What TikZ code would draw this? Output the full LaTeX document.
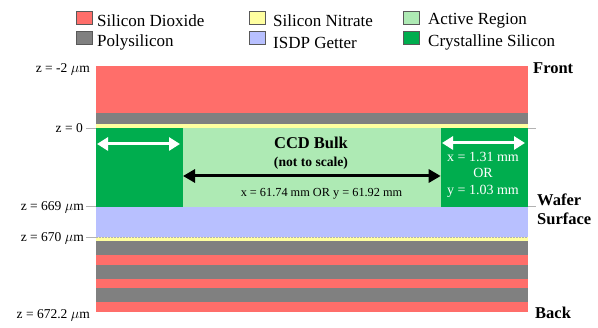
\documentclass[tikz,border=0pt]{standalone}
\usepackage{fontspec}
\setmainfont{Liberation Serif}
\usetikzlibrary{arrows.meta}
\definecolor{oxide}{RGB}{255,110,106}
\definecolor{poly}{RGB}{128,128,128}
\definecolor{nitrate}{RGB}{255,255,160}
\definecolor{active}{RGB}{174,234,180}
\definecolor{xtal}{RGB}{0,173,78}
\definecolor{getter}{RGB}{184,192,255}
\tikzset{
  legbox/.style={draw=black!65, line width=0.8pt, minimum width=16pt, minimum height=13pt, inner sep=0pt},
  legtext/.style={anchor=west, font=\fontsize{17}{19}\selectfont, inner sep=0pt},
  zlab/.style={anchor=east, font=\fontsize{13.5}{15}\selectfont, inner sep=0pt},
  sidelab/.style={anchor=west, font=\bfseries\fontsize{16.5}{18}\selectfont, inner sep=0pt},
  tick/.style={draw=black!30, line width=0.6pt},
  whitearrow/.style={draw=white, line width=3pt, {Triangle[length=11pt,width=13pt]}-{Triangle[length=11pt,width=13pt]}},
  blackarrow/.style={draw=black, line width=3pt, {Triangle[length=12pt,width=13pt]}-{Triangle[length=12pt,width=13pt]}},
  rtext/.style={text=white, font=\fontsize{14}{16}\selectfont, inner sep=0pt},
}
\begin{document}
\begin{tikzpicture}[x=1pt,y=-1pt]
\useasboundingbox (0,0) rectangle (598,328);
% legend
\node[legbox, fill=oxide] (l1) at (84,17.5) {};
\node[legtext] (t1) at (97,20.5) {Silicon Dioxide};
\node[legbox, fill=poly] (l2) at (84,38) {};
\node[legtext] (t2) at (97,42.5) {Polysilicon};
\node[legbox, fill=nitrate] (l3) at (257.5,17.5) {};
\node[legtext] (t3) at (273,20.5) {Silicon Nitrate};
\node[legbox, fill=getter] (l4) at (257.5,38) {};
\node[legtext] (t4) at (273,42.5) {ISDP Getter};
\node[legbox, fill=active] (l5) at (411.5,17.5) {};
\node[legtext] (t5) at (428,20.5) {Active Region};
\node[legbox, fill=xtal] (l6) at (411.5,38) {};
\node[legtext] (t6) at (428,42.5) {Crystalline Silicon};
% layers
\fill[oxide] (96,65.7) rectangle (527.5,113.3);
\fill[poly] (96,113.3) rectangle (527.5,124.3);
\fill[nitrate] (96,124.3) rectangle (527.5,128);
\fill[xtal] (96,128) rectangle (527.5,206.7);
\fill[active] (183,128) rectangle (440.7,206.7);
\fill[getter] (96,206.7) rectangle (527.5,237.3);
\fill[nitrate] (96,237.3) rectangle (527.5,240.7);
\fill[poly] (96,240.7) rectangle (527.5,255);
\fill[oxide] (96,255) rectangle (527.5,265);
\fill[poly] (96,265) rectangle (527.5,278.7);
\fill[oxide] (96,278.7) rectangle (527.5,288.3);
\fill[poly] (96,288.3) rectangle (527.5,302.3);
\fill[oxide] (96,302.3) rectangle (527.5,311.7);
% ticks
\coordinate (a0) at (86,128); \coordinate (a1) at (96,128);
\coordinate (a2) at (527.5,128); \coordinate (a3) at (536,128);
\draw[tick] (a0) -- (a1); \draw[tick] (a2) -- (a3);
\coordinate (b0) at (86,206.7); \coordinate (b1) at (96,206.7);
\coordinate (b2) at (527.5,206.7); \coordinate (b3) at (536,206.7);
\draw[tick] (b0) -- (b1); \draw[tick] (b2) -- (b3);
\coordinate (c0) at (86,237.3); \coordinate (c1) at (96,237.3);
\coordinate (c2) at (527.5,237.3);
\draw[tick] (c0) -- (c1);
\draw[tick, dashed, dash pattern=on 2pt off 1pt] (c1) -- (c2);
% z labels
\node[zlab] (z1) at (90,69) {z = -2 $\mu$m};
\node[zlab] (z2) at (83,128.5) {z = 0};
\node[zlab] (z3) at (84,207) {z = 669 $\mu$m};
\node[zlab] (z4) at (84,238) {z = 670 $\mu$m};
\node[zlab] (z5) at (90,315) {z = 672.2 $\mu$m};
% side labels
\node[sidelab] (f) at (533,68) {Front};
\node[sidelab] (w) at (537,200) {Wafer};
\node[sidelab] (s) at (537,218.5) {Surface};
\node[sidelab] (bk) at (535,313) {Back};
% CCD bulk
\node[font=\bfseries\fontsize{16.5}{18}\selectfont, inner sep=0pt] (ccd) at (311,143) {CCD Bulk};
\node[font=\bfseries\fontsize{13.6}{15}\selectfont, inner sep=0pt] (nts) at (311,163) {(not to scale)};
\coordinate (bl) at (183,176); \coordinate (br) at (440.7,176);
\draw[blackarrow] (bl) -- (br);
\node[font=\fontsize{12.3}{14}\selectfont, inner sep=0pt] (dim) at (321.5,194) {x = 61.74 mm OR y = 61.92 mm};
% white arrows
\coordinate (wl1) at (97,144); \coordinate (wl2) at (180,144);
\draw[whitearrow] (wl1) -- (wl2);
\coordinate (wr1) at (442,143); \coordinate (wr2) at (525,143);
\draw[whitearrow] (wr1) -- (wr2);
\node[rtext] (r1) at (483,157) {x = 1.31 mm};
\node[rtext] (r2) at (483,173) {OR};
\node[rtext] (r3) at (483,191) {y = 1.03 mm};
\end{tikzpicture}
\end{document}
